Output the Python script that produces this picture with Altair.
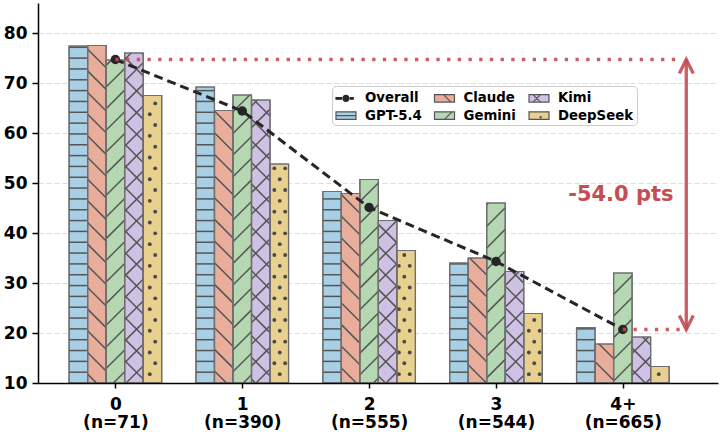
import math
import altair as alt
import pandas as pd

# ---------------- data ----------------
categories = ["0", "1", "2", "3", "4+"]
n_counts = [71, 390, 555, 544, 665]
models = ["GPT-5.4", "Claude", "Gemini", "Kimi", "DeepSeek"]
gpt = [77.4, 69.2, 48.3, 34.0, 21.1]
claude = [77.5, 64.5, 47.9, 35.0, 17.8]
gemini = [74.6, 67.6, 50.7, 46.0, 32.0]
kimi = [76.0, 66.6, 42.5, 32.3, 19.2]
deepseek = [67.5, 53.8, 36.5, 23.9, 13.3]
overall = [74.7, 64.4, 45.1, 34.3, 20.7]
y_ticks = [10, 20, 30, 40, 50, 60, 70, 80]

# ---------------- styles / layout ----------------
RED = "#c44e52"
DARK = "#262626"
EDGE = "#6e6e6e"
HATCH = "#555555"
FONT = "DejaVu Sans"
colors = ["#a9cfe4", "#e9ad9c", "#b5d8b3", "#cfc1e4", "#e8d08f"]
hatches = ["-", "\\", "/", "x", "."]

W, H = 680, 380
PAD = {"left": 38, "top": 3, "right": 2, "bottom": 49}
X_DOM = [-0.61, 4.75]
Y_DOM = [10, 86]
BW = 0.146
KX = W / (X_DOM[1] - X_DOM[0])
KY = H / (Y_DOM[1] - Y_DOM[0])
S = 10.83  # hatch unit spacing in px


def px_x(v):
    return (v - X_DOM[0]) * KX


def px_y(v):
    return H - (v - Y_DOM[0]) * KY


def dx(p):
    return X_DOM[0] + p / KX


def dy(p):
    return Y_DOM[0] + (H - p) / KY


series_vals = [gpt, claude, gemini, kimi, deepseek]

# ---------------- bars ----------------
bar_rows = []
for j, (m, vals) in enumerate(zip(models, series_vals)):
    for i, v in enumerate(vals):
        x0 = i + (j - 2) * BW - BW / 2
        bar_rows.append({"series": m, "color": colors[j], "x": x0, "x2": x0 + BW,
                         "y": Y_DOM[0], "y2": v, "hatch": hatches[j]})
bar_df = pd.DataFrame(bar_rows)

# ---------------- hatch geometry (derived from bar values) ----------------
seg_rows = []
dot_rows = []


def diag(xl, xr, yt, yb, phase, sign):
    step = 2 * S
    if sign > 0:  # x + y = c  (rising to the right on screen)
        cmin, cmax = xl + yt, xr + yb
    else:  # y - x = c
        cmin, cmax = yt - xr, yb - xl
    m0 = math.floor((cmin - phase) / step)
    m1 = math.ceil((cmax - phase) / step)
    for m in range(m0, m1 + 1):
        c = phase + m * step
        if sign > 0:
            xa, xb = max(xl, c - yb), min(xr, c - yt)
            pa, pb = (xa, c - xa), (xb, c - xb)
        else:
            xa, xb = max(xl, yt - c), min(xr, yb - c)
            pa, pb = (xa, xa + c), (xb, xb + c)
        if xb - xa > 0.8:
            seg_rows.append({"x": dx(pa[0]), "y": dy(pa[1]), "x2": dx(pb[0]), "y2": dy(pb[1])})


for r in bar_rows:
    xl, xr = px_x(r["x"]), px_x(r["x2"])
    yt, yb = px_y(r["y2"]), H
    h = r["hatch"]
    if h == "-":
        phase = 44.3
        k = math.ceil((yt - phase) / S)
        while phase + k * S < yb:
            yk = phase + k * S
            if yk > yt + 0.8:
                seg_rows.append({"x": r["x"], "y": dy(yk), "x2": r["x2"], "y2": dy(yk)})
            k += 1
    elif h == "/":
        diag(xl, xr, yt, yb, 498.7, 1)
    elif h == "\\":
        diag(xl, xr, yt, yb, -111.7, -1)
    elif h == "x":
        diag(xl, xr, yt, yb, 576.4, 1)
        diag(xl, xr, yt, yb, -119.0, -1)
    elif h == ".":
        x0p, y0p = 366.3, 252.0
        rmin = math.floor((yt - y0p) / S)
        rmax = math.ceil((yb - y0p) / S)
        for rr in range(rmin, rmax + 1):
            yy = y0p + rr * S
            if not (yt + 1.5 < yy < yb - 0.5):
                continue
            off = 0 if rr % 2 == 0 else S / 2
            kmin = math.floor((xl - x0p - off) / S)
            kmax = math.ceil((xr - x0p - off) / S)
            for kk in range(kmin, kmax + 1):
                xx = x0p + off + kk * S
                if xl + 1.5 < xx < xr - 1.5:
                    dot_rows.append({"x": dx(xx), "y": dy(yy)})

hatch_df = pd.DataFrame(seg_rows)
dot_df = pd.DataFrame(dot_rows)

# ---------------- overall line ----------------
overall_df = pd.DataFrame({"x": list(range(len(categories))), "y": overall})

# ---------------- annotation ----------------
drop = overall[-1] - overall[0]
x_end = 4.45
x_arrow = 4.5
hl_df = pd.DataFrame({
    "x": [0, len(categories) - 1],
    "x2": [x_end, x_end],
    "y": [overall[0], overall[-1]],
})
shaft_df = pd.DataFrame({"x": [x_arrow], "y": [overall[-1]], "y2": [overall[0]]})
head_dy = 14 / KY
head_dx = 7 / KX
head_rows = []
for g, (tip, sgn) in enumerate([(overall[0], -1), (overall[-1], 1)]):
    head_rows += [
        {"g": g, "o": 0, "x": x_arrow - head_dx, "y": tip + sgn * head_dy},
        {"g": g, "o": 1, "x": x_arrow, "y": tip},
        {"g": g, "o": 2, "x": x_arrow + head_dx, "y": tip + sgn * head_dy},
    ]
head_df = pd.DataFrame(head_rows)
text_df = pd.DataFrame({"x": [4.4], "y": [(overall[0] + overall[-1]) / 2], "t": [f"{drop:.1f} pts"]})

# ---------------- legend ----------------
leg_order = ["Overall", "Claude", "Kimi", "GPT-5.4", "Gemini", "DeepSeek"]
fill_map = dict(zip(models, colors))
fill_map["Overall"] = DARK
RECT = "M-1,-0.47H1.5V0.47H-1Z"
path_map = {
    "Overall": "M-1,-0.1H-0.31V0.1H-1Z M0.81,-0.1H1.15V0.1H0.81Z "
               "M-0.125,0A0.375,0.375 0 1,0 0.625,0A0.375,0.375 0 1,0 -0.125,0Z",
    "GPT-5.4": RECT + " M-1,0H1.5",
    "Claude": RECT + " M0.125,-0.47L1.06,0.47",
    "Gemini": RECT + " M0.25,0.47L1.19,-0.47",
    "Kimi": RECT + " M-0.5,-0.47L0.44,0.47 M-0.5,0.47L0.44,-0.47",
    "DeepSeek": RECT + " M0.375,0.21A0.075,0.075 0 1,0 0.525,0.21A0.075,0.075 0 1,0 0.375,0.21Z",
}
stroke_map = {k: (DARK if k == "Overall" else HATCH) for k in leg_order}
leg_df = pd.DataFrame({"series": leg_order, "x": [-5.0] * 6, "y": [50.0] * 6})

fill_scale = alt.Scale(domain=leg_order, range=[fill_map[k] for k in leg_order])
shape_scale = alt.Scale(domain=leg_order, range=[path_map[k] for k in leg_order])
stroke_scale = alt.Scale(domain=leg_order, range=[stroke_map[k] for k in leg_order])

xs = alt.Scale(domain=X_DOM, nice=False, zero=False)
ys = alt.Scale(domain=Y_DOM, nice=False, zero=False)

label_js = "[" + ",".join(f"['{c}','(n={n})']" for c, n in zip(categories, n_counts)) + "]"

x_axis = alt.Axis(
    values=list(range(len(categories))), labelExpr=f"{label_js}[round(datum.value)]",
    title=None, grid=False, domainColor="black", domainWidth=1.5, tickColor="black",
    tickWidth=1.5, tickSize=5, labelFont=FONT, labelFontWeight="bold", labelFontSize=17,
    labelColor="black", labelLineHeight=18, labelPadding=8, labelBaseline="top", zindex=1,
    labelFlush=False, labelOverlap=False,
)
y_axis = alt.Axis(
    values=y_ticks, title=None, grid=True, gridColor="#dcdcdc", gridDash=[5, 3], gridWidth=1,
    domainColor="black", domainWidth=1.5, tickColor="black", tickWidth=1.5, tickSize=6,
    labelFont=FONT, labelFontWeight="bold", labelFontSize=17, labelColor="black",
    labelPadding=5, labelFlush=False, labelOverlap=False,
)


def X(field="x"):
    return alt.X(f"{field}:Q", scale=xs, axis=x_axis, title=None)


def Y(field="y"):
    return alt.Y(f"{field}:Q", scale=ys, axis=y_axis, title=None)


bars = alt.Chart(bar_df).mark_rect(stroke=EDGE, strokeWidth=1.2).encode(
    x=X(), x2="x2:Q", y=Y(), y2="y2:Q",
    fill=alt.Fill("color:N", scale=None),
)

hatch_lines = alt.Chart(hatch_df).mark_rule(color=HATCH, strokeWidth=1.5).encode(
    x=X(), y=Y(), x2="x2:Q", y2="y2:Q",
)

dots = alt.Chart(dot_df).mark_circle(color="#4a4a4a", size=15, opacity=1).encode(x=X(), y=Y())

edges = alt.Chart(bar_df).mark_rect(fill=None, stroke=EDGE, strokeWidth=1.2).encode(
    x=X(), x2="x2:Q", y=Y(), y2="y2:Q",
)

ov_line = alt.Chart(overall_df).mark_line(color=DARK, strokeWidth=3, strokeDash=[9, 5]).encode(
    x=X(), y=Y(),
)
ov_pts = alt.Chart(overall_df).mark_circle(color=DARK, size=90, opacity=1).encode(x=X(), y=Y())

hlines = alt.Chart(hl_df).mark_rule(color=RED, strokeWidth=3.3, strokeDash=[3.3, 7.4], opacity=0.9).encode(
    x=X(), x2="x2:Q", y=Y(),
)
shaft = alt.Chart(shaft_df).mark_rule(color=RED, strokeWidth=3.3, opacity=0.9).encode(
    x=X(), y=Y(), y2="y2:Q",
)
heads = alt.Chart(head_df).mark_line(color=RED, strokeWidth=3.3, opacity=0.9).encode(
    x=X(), y=Y(), detail="g:N", order="o:Q",
)
label = alt.Chart(text_df).mark_text(
    color=RED, font=FONT, fontWeight="bold", fontSize=21, align="right", baseline="middle",
).encode(x=X(), y=Y(), text="t:N")

legend_layer = alt.Chart(leg_df).mark_point(filled=True, opacity=1, strokeWidth=1.2, clip=True).encode(
    x=X(), y=Y(),
    fill=alt.Fill("series:N", scale=fill_scale, legend=alt.Legend(
        title=None, orient="none", legendX=294, legendY=83, columns=3, direction="horizontal",
        symbolSize=256, symbolStrokeWidth=1.2, labelFont=FONT, labelFontWeight="bold",
        labelFontSize=13.3, labelColor="black", labelOffset=12, columnPadding=9.5, rowPadding=1.6,
        padding=3, strokeColor="#cccccc", fillColor="white", cornerRadius=4, labelLimit=200,
    )),
    shape=alt.Shape("series:N", scale=shape_scale),
    stroke=alt.Stroke("series:N", scale=stroke_scale),
)

chart = alt.layer(
    bars, hatch_lines, dots, edges, ov_line, ov_pts, hlines, shaft, heads, label, legend_layer,
).properties(
    width=W, height=H, padding=PAD, autosize=alt.AutoSizeParams(type="none"),
).configure_view(stroke=None)

chart.save("out.html", embed_options={"renderer": "svg", "actions": False})
